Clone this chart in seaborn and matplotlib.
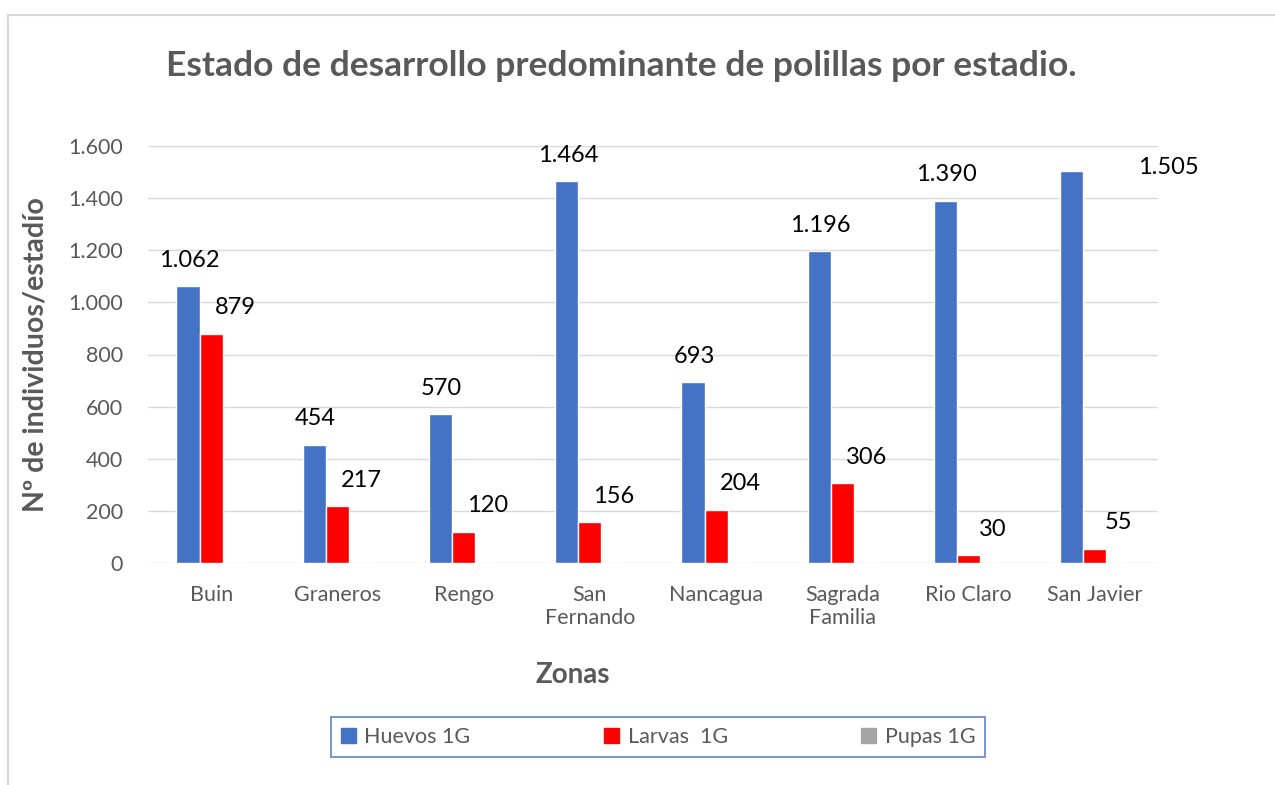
import matplotlib.pyplot as plt
import matplotlib.patches as mpatches
import seaborn as sns
import pandas as pd

zonas = ['Buin', 'Graneros', 'Rengo', 'San\nFernando', 'Nancagua',
         'Sagrada\nFamilia', 'Rio Claro', 'San Javier']
huevos = [1062, 454, 570, 1464, 693, 1196, 1390, 1505]
larvas = [879, 217, 120, 156, 204, 306, 30, 55]
pupas = [0, 0, 0, 0, 0, 0, 0, 0]
series = ['Huevos 1G', 'Larvas  1G', 'Pupas 1G']
colores = ['#4472C4', '#FF0000', '#A5A5A5']

rows = []
for nombre, vals in zip(series, [huevos, larvas, pupas]):
    for z, v in zip(zonas, vals):
        rows.append({'Zona': z, 'Serie': nombre, 'Valor': v})
df = pd.DataFrame(rows)

sns.set_style('white')
plt.rcParams['font.family'] = ['Lato', 'DejaVu Sans']

W, H = 1275, 785
fig = plt.figure(figsize=(W / 100, H / 100), dpi=100)
ax = fig.add_axes([148 / W, 1 - 563 / H, (1158 - 148) / W, (563 - 146) / H])

sns.barplot(data=df, x='Zona', y='Valor', hue='Serie', palette=colores,
            width=0.55, saturation=1, ax=ax)

ax.set_ylim(0, 1600)
ax.set_xlim(-0.5, len(zonas) - 0.5)
ax.set_yticks(range(0, 1601, 200))
ax.set_yticklabels([f'{v:,}'.replace(',', '.') for v in range(0, 1601, 200)])
ax.yaxis.grid(True, color='#D9D9D9', linewidth=1)
ax.set_axisbelow(True)
for s in ax.spines.values():
    s.set_visible(False)
ax.tick_params(axis='both', length=0, labelsize=15.5, labelcolor='#595959')
ax.tick_params(axis='x', pad=16)
ax.tick_params(axis='y', pad=18)
ax.set_xlabel('Zonas', fontsize=20, fontweight='bold', color='#595959')
ax.xaxis.set_label_coords((573 - 148) / 1010, -(675 - 563) / (563 - 146), transform=ax.transAxes)
ax.xaxis.label.set_va('center')
ax.set_ylabel('Nº de individuos/estadío', fontsize=20.5, fontweight='bold',
              color='#595959', labelpad=14)

# etiquetas de datos
fmt = lambda v: f'{int(v):,}'.replace(',', '.')
for k, cont in enumerate(ax.containers[:2]):
    for bar in cont:
        h = bar.get_height()
        x = bar.get_x() + bar.get_width() / 2
        if k == 0:
            if h > 1480:
                off = (97, 3)
            else:
                off = (1, 26)
        else:
            off = (24, 26)
        ax.annotate(fmt(h), (x, h), xytext=off, textcoords='offset pixels',
                    ha='center', va='center', fontsize=17, color='black',
                    annotation_clip=False)

ax.get_legend().remove()
handles = [mpatches.Patch(color=c) for c in colores]
leg = fig.legend(handles, series, loc='center', ncol=3,
                 bbox_to_anchor=(658 / W, 1 - 737 / H), frameon=True,
                 fancybox=False, fontsize=15.5, handlelength=0.7,
                 handleheight=0.7, handletextpad=0.4, columnspacing=6.2,
                 borderpad=0.45, borderaxespad=0)
leg.get_frame().set_edgecolor('#4472C4')
leg.get_frame().set_linewidth(1.3)
for t in leg.get_texts():
    t.set_color('#595959')

fig.text(621 / W, 1 - 66 / H, 'Estado de desarrollo predominante de polillas por estadio.',
         ha='center', va='center', fontsize=25.5, fontweight='bold', color='#595959')

fig.patches.append(mpatches.Rectangle((8 / W, -0.01), 1.1, 1 - 15 / H + 0.01,
                                      transform=fig.transFigure, fill=False,
                                      edgecolor='#D9D9D9', linewidth=1.5))

fig.savefig('out.png', dpi=100)
